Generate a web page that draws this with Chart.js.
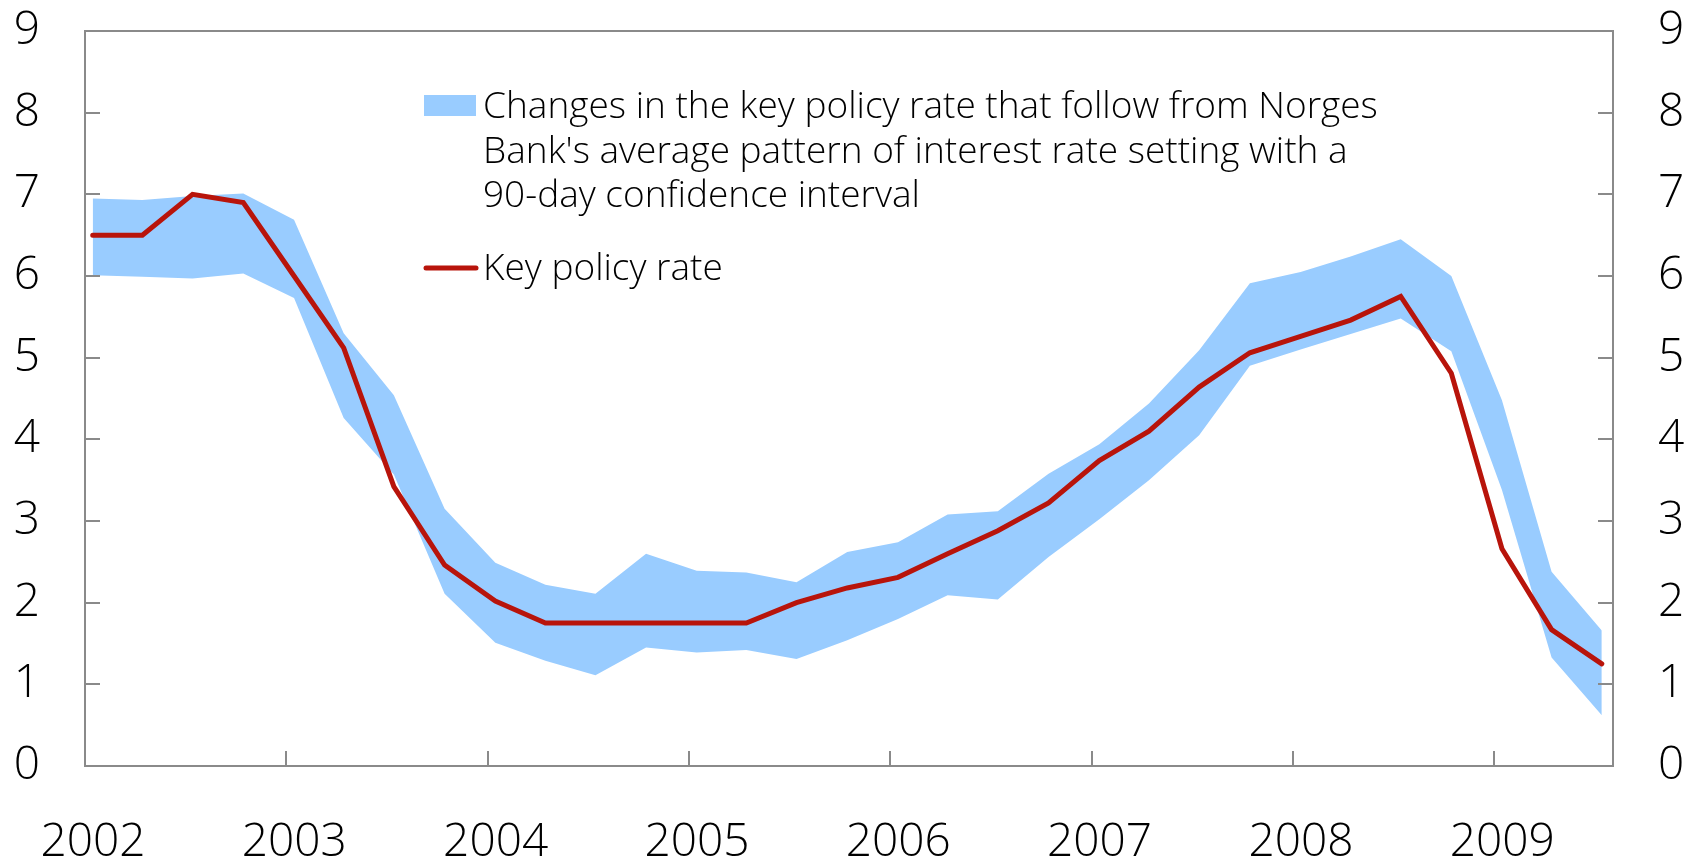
<!DOCTYPE html>
<html>
<head>
<meta charset="utf-8">
<script src="https://cdn.jsdelivr.net/npm/chart.js@4"></script>
<style>
  html, body { margin: 0; padding: 0; background: #fff; }
  canvas { display: block; }
</style>
</head>
<body>
<canvas id="rateChart" width="1686" height="858"></canvas>
<script>
// Quarterly observation dates
const dates = [
    "2002-01-15", "2002-04-15", "2002-07-15", "2002-10-15",
    "2003-01-15", "2003-04-15", "2003-07-15", "2003-10-15",
    "2004-01-15", "2004-04-15", "2004-07-15", "2004-10-15",
    "2005-01-15", "2005-04-15", "2005-07-15", "2005-10-15",
    "2006-01-15", "2006-04-15", "2006-07-15", "2006-10-15",
    "2007-01-15", "2007-04-15", "2007-07-15", "2007-10-15",
    "2008-01-15", "2008-04-15", "2008-07-15", "2008-10-15",
    "2009-01-15", "2009-04-15", "2009-07-15"
];

const policyRate = [
    6.5, 6.5, 7.0, 6.9, 6.0, 5.12, 3.42, 2.46, 2.02, 1.75,
    1.75, 1.75, 1.75, 1.75, 2.0, 2.18, 2.31, 2.6, 2.88, 3.22,
    3.74, 4.1, 4.64, 5.06, 5.26, 5.46, 5.75, 4.81, 2.66, 1.67,
    1.25
];

// 90-day confidence interval around the average pattern
const bandUpper = [
    6.95, 6.93, 6.98, 7.01, 6.69, 5.3, 4.54, 3.15, 2.49, 2.22,
    2.11, 2.6, 2.39, 2.37, 2.25, 2.62, 2.74, 3.08, 3.12, 3.58,
    3.94, 4.44, 5.09, 5.91, 6.05, 6.24, 6.45, 6.0, 4.48, 2.38,
    1.66
];
const bandLower = [
    6.01, 5.99, 5.97, 6.03, 5.73, 4.26, 3.57, 2.11, 1.51, 1.29,
    1.11, 1.45, 1.39, 1.42, 1.31, 1.54, 1.8, 2.09, 2.04, 2.56,
    3.02, 3.5, 4.05, 4.9, 5.1, 5.29, 5.48, 5.08, 3.38, 1.33,
    0.62
];

const yearTicks = [2002, 2003, 2004, 2005, 2006, 2007, 2008, 2009];
const legendLines = [
    "Changes in the key policy rate that follow from Norges",
    "Bank's average pattern of interest rate setting with a",
    "90-day confidence interval"
];
const legendRate = "Key policy rate";

const bandColor = "#99ccff";
const rateColor = "#b8140b";
const axisColor = "#8a8a8a";
const fontFamily = "'Open Sans', Roboto, 'Liberation Sans', sans-serif";

const toYear = (s) => {
    const [y, m, d] = s.split("-").map(Number);
    const start = Date.UTC(y, 0, 1);
    const end = Date.UTC(y + 1, 0, 1);
    return y + (Date.UTC(y, m - 1, d) - start) / (end - start);
};
const xs = dates.map(toYear);
const pairs = (vals) => vals.map((v, i) => ({ x: xs[i], y: v }));

// keep the plot box fixed, labels may hang over the edges
const fixWidth = (w) => (s) => {
    s.width = w;
    s.paddingTop = 0;
    s.paddingBottom = 0;
};

// frame, inward tick marks and the legend block
const frameAndLegend = {
    id: "frameAndLegend",
    afterDraw(chart) {
        const { ctx, chartArea: a, scales } = chart;
        const tick = 15;
        ctx.save();
        ctx.strokeStyle = axisColor;
        ctx.lineWidth = 2;
        ctx.strokeRect(a.left, a.top, a.right - a.left, a.bottom - a.top);

        ctx.beginPath();
        for (let v = 1; v <= 8; v++) {
            const y = Math.round(scales.y.getPixelForValue(v));
            ctx.moveTo(a.left, y);
            ctx.lineTo(a.left + tick, y);
            ctx.moveTo(a.right, y);
            ctx.lineTo(a.right - tick, y);
        }
        yearTicks.slice(1).forEach((yr) => {
            const x = Math.round(scales.x.getPixelForValue(yr));
            ctx.moveTo(x, a.bottom);
            ctx.lineTo(x, a.bottom - tick);
        });
        ctx.stroke();

        const lx = a.left + 339;
        ctx.fillStyle = bandColor;
        ctx.fillRect(lx, a.top + 64, 52, 21);

        ctx.strokeStyle = rateColor;
        ctx.lineWidth = 5;
        ctx.lineCap = "round";
        ctx.beginPath();
        ctx.moveTo(lx + 2, a.top + 237);
        ctx.lineTo(lx + 52, a.top + 237);
        ctx.stroke();

        ctx.fillStyle = "#000";
        ctx.font = "300 37px " + fontFamily;
        ctx.textBaseline = "alphabetic";
        legendLines.forEach((line, i) => {
            ctx.fillText(line, lx + 59, a.top + 87 + i * 44.5);
        });
        ctx.fillText(legendRate, lx + 59, a.top + 249);
        ctx.restore();
    }
};

new Chart(document.getElementById("rateChart"), {
    type: "line",
    data: {
        datasets: [
            {
                label: legendRate,
                data: pairs(policyRate),
                borderColor: rateColor,
                borderWidth: 5,
                borderCapStyle: "round",
                pointRadius: 0,
                fill: false,
                order: 0
            },
            {
                label: "lower",
                data: pairs(bandLower),
                borderWidth: 0,
                pointRadius: 0,
                fill: false,
                order: 2
            },
            {
                label: "upper",
                data: pairs(bandUpper),
                borderWidth: 0,
                pointRadius: 0,
                backgroundColor: bandColor,
                fill: "-1",
                order: 1
            }
        ]
    },
    options: {
        responsive: false,
        animation: false,
        events: [],
        layout: { padding: { top: 31, left: 0, right: 0, bottom: 0 } },
        elements: { line: { tension: 0 } },
        plugins: {
            legend: { display: false },
            tooltip: { enabled: false }
        },
        scales: {
            x: {
                type: "linear",
                min: 2002,
                max: 2009.59,
                grid: { display: false, drawTicks: false },
                border: { display: false },
                afterFit: (s) => {
                    s.height = 92;
                    s.paddingLeft = 0;
                    s.paddingRight = 0;
                },
                ticks: {
                    stepSize: 1,
                    includeBounds: false,
                    autoSkip: false,
                    maxRotation: 0,
                    labelOffset: 8,
                    padding: 49,
                    color: "#000",
                    font: { family: fontFamily, size: 46, weight: "300" },
                    callback: (v) => String(v)
                }
            },
            y: {
                position: "left",
                min: 0,
                max: 9,
                grid: { display: false, drawTicks: false },
                border: { display: false },
                afterFit: fixWidth(85),
                ticks: {
                    stepSize: 1,
                    padding: 45,
                    color: "#000",
                    font: { family: fontFamily, size: 46, weight: "300" }
                }
            },
            y2: {
                position: "right",
                min: 0,
                max: 9,
                grid: { display: false, drawTicks: false },
                border: { display: false },
                afterFit: fixWidth(73),
                ticks: {
                    stepSize: 1,
                    padding: 45,
                    color: "#000",
                    font: { family: fontFamily, size: 46, weight: "300" }
                }
            }
        }
    },
    plugins: [frameAndLegend]
});
</script>
</body>
</html>
